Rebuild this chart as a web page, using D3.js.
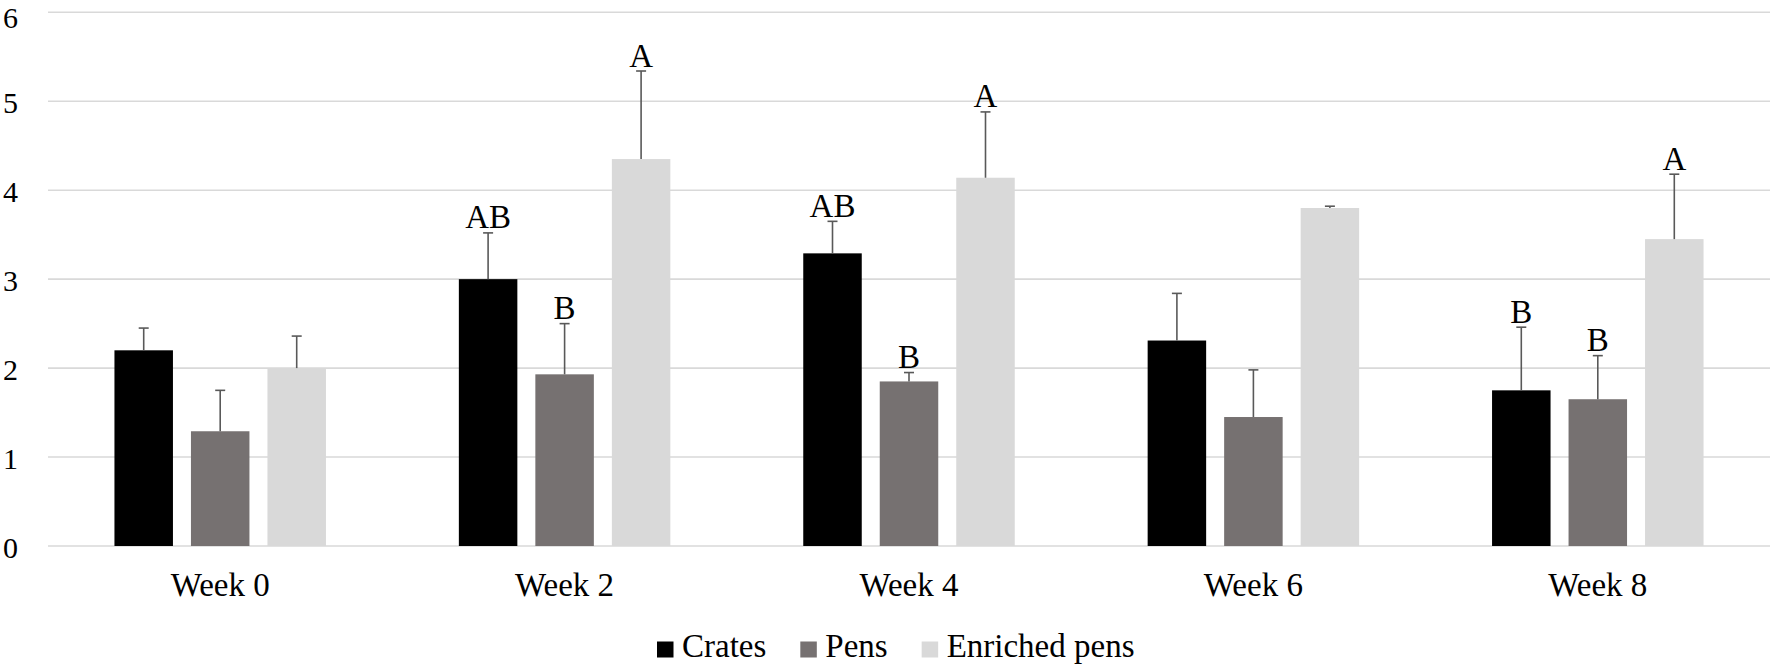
<!DOCTYPE html>
<html lang="en">
<head>
    <meta charset="UTF-8">
    <title>Weeks by housing</title>
    <script src="https://cdn.jsdelivr.net/npm/d3@7"></script>
    <style>
        body{
            margin: 0;
            background: #fff;
        }
        text{
            font-family: "Liberation Serif", "Times New Roman", serif;
            font-size: 33px;
            fill: #000;
        }
        .tick{
            font-size: 30px;
        }
        .grid line{
            stroke: #d9d9d9;
            stroke-width: 1.6;
        }
        .err{
            stroke: #595959;
            stroke-width: 1.6;
            fill: none;
        }
    </style>
</head>
<body>
<div class="container"></div>
<script>
    ////////////////////////////////////////////////////////////////
    /*                    Data                 */
    ////////////////////////////////////////////////////////////////
    const weeks = ["Week 0", "Week 2", "Week 4", "Week 6", "Week 8"];
    const seriesNames = ["Crates", "Pens", "Enriched pens"];
    const seriesColors = ["#000000", "#767171", "#d9d9d9"];

    const crates = [2.20, 3.00, 3.29, 2.31, 1.75];
    const cratesErr = [0.25, 0.52, 0.36, 0.53, 0.71];
    const cratesLetters = ["", "AB", "AB", "", "B"];

    const pens = [1.29, 1.93, 1.85, 1.45, 1.65];
    const pensErr = [0.46, 0.57, 0.10, 0.53, 0.49];
    const pensLetters = ["", "B", "B", "", "B"];

    const enriched = [2.00, 4.35, 4.14, 3.80, 3.45];
    const enrichedErr = [0.36, 0.99, 0.74, 0.02, 0.73];
    const enrichedLetters = ["", "A", "A", "", "A"];

    const yTicks = [0, 1, 2, 3, 4, 5, 6];

    ////////////////////////////////////////////////////////////////
    /*                  Constants and containers                   */
    ////////////////////////////////////////////////////////////////
    const width = 1772, height = 669;
    const margins = {top: 12.3, left: 48, right: 2, bottom: 123};

    const svg = d3.select(".container")
        .append("svg")
        .attr("width", width)
        .attr("height", height);

    const y = d3.scaleLinear()
        .domain([0, 6])
        .range([height - margins.bottom, margins.top]);

    const x0 = d3.scaleBand()
        .domain(weeks)
        .range([margins.left, width - margins.right])
        .padding(0);

    // group of three bars: 58.5 wide bars, 18 px gaps
    const groupWidth = 211.5;
    const x1 = d3.scaleBand()
        .domain(seriesNames)
        .range([0, groupWidth])
        .paddingInner(18 / 76.5)
        .paddingOuter(0);

    const color = d3.scaleOrdinal().domain(seriesNames).range(seriesColors);

    // flatten into one record per bar
    const cols = [
        {name: "Crates", vals: crates, err: cratesErr, let: cratesLetters},
        {name: "Pens", vals: pens, err: pensErr, let: pensLetters},
        {name: "Enriched pens", vals: enriched, err: enrichedErr, let: enrichedLetters}
    ];
    const bars = [];
    weeks.forEach((w, i) => {
        cols.forEach(c => {
            bars.push({week: w, series: c.name, value: c.vals[i], err: c.err[i], letter: c.let[i]});
        });
    });
    const barX = d => x0(d.week) + x0.bandwidth() / 2 - groupWidth / 2 + x1(d.series);

    ////////////////////////////////////////////////////////////////
    /*                       Gridlines + y axis                    */
    ////////////////////////////////////////////////////////////////
    svg.append("g").attr("class", "grid")
        .selectAll("line")
        .data(yTicks)
        .join("line")
        .attr("x1", margins.left)
        .attr("x2", width - margins.right)
        .attr("y1", d => y(d))
        .attr("y2", d => y(d));

    // top label nudged down a little so it stays inside the picture
    svg.append("g")
        .selectAll("text")
        .data(yTicks)
        .join("text")
        .attr("class", "tick")
        .attr("x", 18)
        .attr("y", d => Math.max(y(d) + 12, 27.5))
        .attr("text-anchor", "end")
        .text(d => d);

    ////////////////////////////////////////////////////////////////
    /*                            Bars                             */
    ////////////////////////////////////////////////////////////////
    svg.append("g")
        .selectAll("rect")
        .data(bars)
        .join("rect")
        .attr("x", barX)
        .attr("y", d => y(d.value))
        .attr("width", x1.bandwidth())
        .attr("height", d => y(0) - y(d.value))
        .attr("fill", d => color(d.series));

    // error bars (upper only)
    const errG = svg.append("g").attr("class", "err")
        .selectAll("g")
        .data(bars)
        .join("g")
        .attr("transform", d => `translate(${barX(d) + x1.bandwidth() / 2},0)`);
    errG.append("line")
        .attr("x1", 0).attr("x2", 0)
        .attr("y1", d => y(d.value))
        .attr("y2", d => y(d.value + d.err));
    errG.append("line")
        .attr("x1", -5).attr("x2", 5)
        .attr("y1", d => y(d.value + d.err))
        .attr("y2", d => y(d.value + d.err));

    // significance letters
    svg.append("g")
        .selectAll("text")
        .data(bars.filter(d => d.letter))
        .join("text")
        .attr("x", d => barX(d) + x1.bandwidth() / 2)
        .attr("y", d => y(d.value + d.err) - 4.5)
        .attr("text-anchor", "middle")
        .text(d => d.letter);

    ////////////////////////////////////////////////////////////////
    /*                        Category labels                      */
    ////////////////////////////////////////////////////////////////
    svg.append("g")
        .selectAll("text")
        .data(weeks)
        .join("text")
        .attr("x", d => x0(d) + x0.bandwidth() / 2)
        .attr("y", 596)
        .attr("text-anchor", "middle")
        .text(d => d);

    ////////////////////////////////////////////////////////////////
    /*                            Legend                           */
    ////////////////////////////////////////////////////////////////
    const legend = svg.append("g").attr("transform", `translate(657,0)`);
    let lx = 0;
    seriesNames.forEach(name => {
        const item = legend.append("g").attr("transform", `translate(${lx},0)`);
        item.append("rect")
            .attr("x", 0).attr("y", 641.5)
            .attr("width", 16.5).attr("height", 16)
            .attr("fill", color(name));
        const t = item.append("text")
            .attr("x", 25)
            .attr("y", 657)
            .text(name);
        lx += 25 + t.node().getComputedTextLength() + 34;
    });
</script>
</body>
</html>
